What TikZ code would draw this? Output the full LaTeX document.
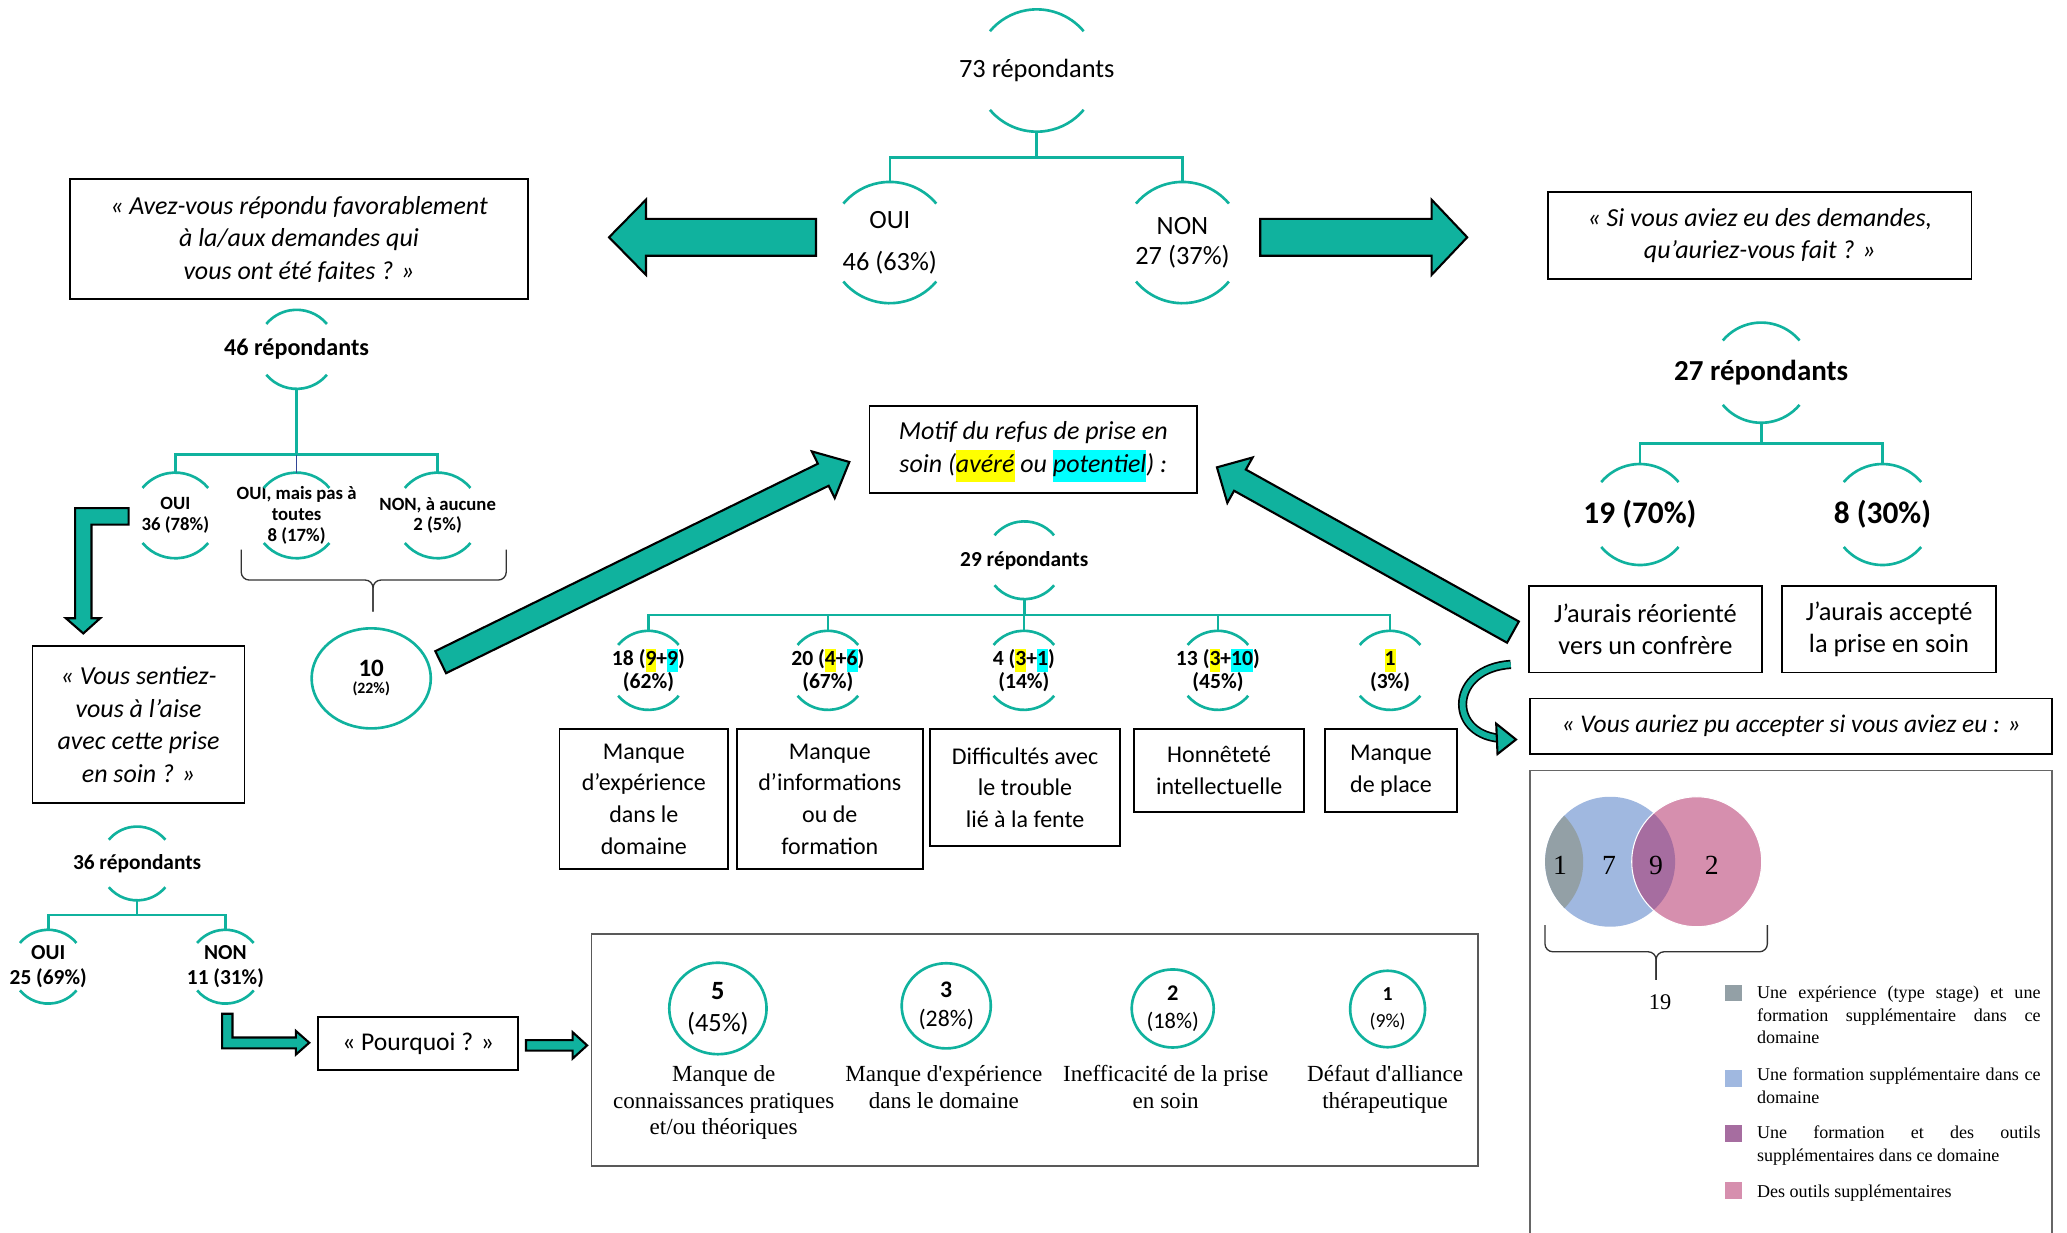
\documentclass[tikz,border=0pt]{standalone}
\usepackage{fontspec}
\setmainfont{Carlito}
\newfontfamily\timesrm{Liberation Serif}
\usetikzlibrary{shapes.geometric,calc,positioning}

\definecolor{tealc}{RGB}{16,178,158}
\definecolor{navyc}{RGB}{50,70,150}
\definecolor{hly}{RGB}{255,255,0}
\definecolor{hlc}{RGB}{0,255,255}
\definecolor{venngrey}{RGB}{147,160,166}
\definecolor{vennblue}{RGB}{160,184,224}
\definecolor{vennpurple}{RGB}{166,109,160}
\definecolor{vennpink}{RGB}{214,143,174}

\hyphenpenalty=10000
\exhyphenpenalty=10000
\tolerance=9999

\newcommand{\fs}[2]{\fontsize{#1}{#2}\selectfont}
\newcommand{\hlyel}[1]{{\setlength{\fboxsep}{0pt}\colorbox{hly}{\strut#1}}}
\newcommand{\hlcya}[1]{{\setlength{\fboxsep}{0pt}\colorbox{hlc}{\strut#1}}}

% top and bottom arcs round a bubble node
\newcommand{\halves}[2]{%
  \draw[arcline] (#1.center) ++(40:#2pt) arc[start angle=40,end angle=140,radius=#2pt];
  \draw[arcline] (#1.center) ++(220:#2pt) arc[start angle=220,end angle=320,radius=#2pt];}

% fat arrow: tail, angle, length, half body, half head, head length
\newcommand{\fatarrow}[6]{%
  \begin{scope}[shift={(#1)},rotate=#2]
    \draw[fatarr] (0,-#4) -- ({#3-#6},-#4) -- ({#3-#6},-#5) -- (#3,0)
      -- ({#3-#6},#5) -- ({#3-#6},#4) -- (0,#4) -- cycle;
  \end{scope}}

% brace: left x, centre x, right x, top y, bar y, tip y
\newcommand{\curly}[6]{%
  \draw[bracel] (#1,#4) -- (#1,#5) -- (#2,#5) -- (#2,#6);
  \draw[bracel] (#3,#4) -- (#3,#5) -- (#2,#5) -- (#2,#6);}

\tikzset{
  tline/.style={draw=tealc, line width=2pt},
  arcline/.style={draw=tealc, line width=2pt},
  bub/.style={minimum height=#1, inner sep=0pt, outer sep=0pt, align=center},
  qbox/.style={draw, line width=1.3pt, align=center, inner sep=0pt, font=\itshape\fs{19.7}{24.7}},
  rbox/.style={draw, line width=1.3pt, align=center, inner sep=0pt, font=\fs{18.2}{24}},
  fatarr/.style={fill=tealc, draw=black, line width=1.6pt, line join=miter},
  bracel/.style={draw=black!80, line width=1pt, rounded corners=6pt},
  ring/.style={ellipse, draw=tealc, line width=2pt, inner sep=0pt, align=center},
  lab/.style={anchor=north, align=center, inner sep=0pt, font=\timesrm\fs{17.5}{20.3}},
  legtext/.style={anchor=north west, text width=215pt, align=justify, inner sep=0pt, font=\timesrm\fs{13.7}{17}},
  vnum/.style={font=\timesrm\fs{21}{24}, inner sep=0pt}
}

\begin{document}
\begin{tikzpicture}[x=1pt,y=-1pt]
\fill[white] (0,0) rectangle (1568,935);
\useasboundingbox (0,0) rectangle (1568,935);

% top tree
\node[bub=92.8pt, font=\fs{20}{24}] (tot) at (786.5,53.5) {73 répondants};
\halves{tot}{46.4}
\node[bub=92pt, font=\fs{20}{31.6}] (oui) at (675,184) {OUI\\46 (63\%)};
\halves{oui}{46}
\node[bub=92pt, font=\fs{20}{22.7}] (non) at (897,184) {NON\\27 (37\%)};
\halves{non}{46}
\draw[tline] (tot.south) -- ++(0,19.5) -| (oui.north);
\draw[tline] (tot.south) -- ++(0,19.5) -| (non.north);

\fatarrow{619,180}{180}{157}{14}{28.5}{28}
\fatarrow{956,180}{0}{157}{14}{28.5}{27}

\node[qbox, minimum width=347pt, minimum height=90.8pt] (favq) at (226.8,181.4)
  {« Avez-vous répondu favorablement\\à la/aux demandes qui\\vous ont été faites ? »};
\node[qbox, minimum width=321pt, minimum height=65.8pt] (siq) at (1335,178.8)
  {« Si vous aviez eu des demandes,\\qu'auriez-vous fait ? »};

% left tree
\node[bub=60pt, font=\bfseries\fs{18.3}{22}] (r46) at (225,265) {46 répondants};
\halves{r46}{30}
\node[bub=65pt, font=\bfseries\fs{14.2}{15.8}] (c36) at (133,391) {OUI\\36 (78\%)};
\halves{c36}{32.5}
\node[bub=65pt, font=\bfseries\fs{14.2}{15.8}] (c8) at (225,391) {OUI, mais pas à\\toutes\\8 (17\%)};
\halves{c8}{32.5}
\node[bub=65pt, font=\bfseries\fs{14.2}{15.8}] (c2) at (332,391) {NON, à aucune\\2 (5\%)};
\halves{c2}{32.5}
\draw[tline] (r46.south) -- ++(0,50) -| (c36.north);
\draw[tline] (r46.south) -- ++(0,50) -| (c2.north);
\draw[navyc, line width=1pt] (c8.north) -- ++(0,-13);

\curly{183}{283}{384}{417}{440}{464}
\node[ring, minimum width=90.4pt, minimum height=75.9pt] (dix) at (281.6,514.6)
  {\fs{19}{21}\textbf{10}\\[1pt]\fs{12}{14}\textbf{(22\%)}};

\fatarrow{334.3,502.3}{26.1}{345.2}{9.3}{19.7}{22}

% reasons of refusal
\node[qbox, minimum width=248.4pt, minimum height=66.4pt] (motif) at (783.8,341)
  {\strut Motif du refus de prise en\\soin (\hlyel{avéré} ou \hlcya{potentiel}) :};
\node[bub=59pt, font=\bfseries\fs{16.2}{19}] (r29) at (777,425) {29 répondants};
\halves{r29}{29.5}
\node[bub=60pt, font=\bfseries\fs{16.4}{17.6}] (m1) at (491.9,508.5) {18 (\hlyel{9}+\hlcya{9})\\(62\%)};
\node[bub=60pt, font=\bfseries\fs{16.4}{17.6}] (m2) at (628,508.5) {20 (\hlyel{4}+\hlcya{6})\\(67\%)};
\node[bub=60pt, font=\bfseries\fs{16.4}{17.6}] (m3) at (776.7,508.5) {4 (\hlyel{3}+\hlcya{1})\\(14\%)};
\node[bub=60pt, font=\bfseries\fs{16.4}{17.6}] (m4) at (923.9,508.5) {13 (\hlyel{3}+\hlcya{10})\\(45\%)};
\node[bub=60pt, font=\bfseries\fs{16.4}{17.6}] (m5) at (1054.5,508.5) {\hlyel{1}\\(3\%)};
\foreach \m in {m1,m2,m3,m4,m5} {
  \halves{\m}{30}
  \draw[tline] (r29.south) -- ++(0,12) -| (\m.north);
}
\node[rbox, minimum width=127.8pt, minimum height=106.2pt] (b1) at (488.4,606.1) {Manque\\d’expérience\\dans le\\domaine};
\node[rbox, minimum width=141pt, minimum height=106.2pt] (b2) at (629.5,606.1) {Manque\\d’informations\\ou de\\formation};
\node[rbox, minimum width=144.2pt, minimum height=88.5pt] (b3) at (777.6,597.3) {Difficultés avec\\le trouble\\lié à la fente};
\node[rbox, minimum width=129pt, minimum height=62.8pt] (b4) at (924.8,584.4) {Honnêteté\\intellectuelle};
\node[rbox, minimum width=100.3pt, minimum height=63pt] (b5) at (1055.2,584.5) {Manque\\de place};

% right tree
\node[bub=76pt, font=\bfseries\fs{22}{26}] (r27) at (1336,282.7) {27 répondants};
\halves{r27}{38}
\node[bub=76.6pt, font=\bfseries\fs{23.8}{28}] (p19) at (1244,390.3) {19 (70\%)};
\halves{p19}{38.3}
\node[bub=76.6pt, font=\bfseries\fs{23.8}{28}] (p8) at (1428,390.3) {8 (30\%)};
\halves{p8}{38.3}
\draw[tline] (r27.south) -- ++(0,15.6) -| (p19.north);
\draw[tline] (r27.south) -- ++(0,15.6) -| (p8.north);
\node[rbox, font=\fs{20}{24}, minimum width=176.4pt, minimum height=65.7pt] (reor) at (1248.2,477.2) {J’aurais réorienté\\vers un confrère};
\node[rbox, font=\fs{20}{24}, minimum width=162pt, minimum height=65.7pt] (acc) at (1433,477.2) {J’aurais accepté\\la prise en soin};

\fatarrow{1147.7,479.5}{150.9}{257}{9.2}{19.7}{20}

% curved arrow
\draw[line width=7pt, black] (1146,504) .. controls (1100,507) and (1098,556) .. (1137,560);
\draw[line width=4.4pt, tealc] (1146,504) .. controls (1100,507) and (1098,556) .. (1137,560);
\draw[fatarr] (1135,549) -- (1150,561) -- (1136,572) -- cycle;

\node[qbox, font=\itshape\fs{19.3}{23}, minimum width=396pt, minimum height=42pt] (pu) at (1358.7,550.8)
  {« Vous auriez pu accepter si vous aviez eu : »};

% Venn
\node[draw=black!60, line width=1pt, minimum width=396pt, minimum height=380pt, anchor=north] (vennbox) at (1358.7,584) {};
\fill[vennblue] (1221.4,653.7) circle[radius=49.3pt];
\begin{scope}
  \clip (1221.4,653.7) circle[radius=49.3pt];
  \fill[venngrey] (1151,654) circle[radius=50pt];
\end{scope}
\fill[vennpink] (1287.1,653.7) circle[radius=49.3pt];
\begin{scope}
  \clip (1221.4,653.7) circle[radius=49.3pt];
  \fill[vennpurple] (1287.1,653.7) circle[radius=49.3pt];
\end{scope}
\draw[white, line width=0.8pt] (1287.1,653.7) circle[radius=49.3pt];
\node[vnum] (v1) at (1183.4,656.2) {1};
\node[vnum] (v7) at (1220.6,656.2) {7};
\node[vnum] (v9) at (1256.3,656.2) {9};
\node[vnum] (v2) at (1298.5,656.2) {2};
\curly{1172}{1256.3}{1340.7}{701.7}{722}{743.4}
\node[font=\timesrm\fs{17}{20}] (tot19) at (1259.3,760) {19};

\fill[venngrey] (1308.5,747.2) rectangle ++(13,12.5);
\fill[vennblue] (1308.5,811.7) rectangle ++(13,12.5);
\fill[vennpurple] (1308.5,853.5) rectangle ++(13,12.5);
\fill[vennpink] (1308.5,897) rectangle ++(13,12.5);
\node[legtext] (lg1) at (1332.7,748) {Une expérience (type stage) et une formation supplémentaire dans ce domaine};
\node[legtext] (lg2) at (1332.7,810) {Une formation supplémentaire dans ce domaine};
\node[legtext] (lg3) at (1332.7,854) {Une formation et des outils supplémentaires dans ce domaine};
\node[legtext] (lg4) at (1332.7,898.5) {Des outils supplémentaires};

% bottom left
\draw[fatarr] (97.6,385.5) -- (57,385.5) -- (57,469) -- (50,469) -- (63.2,480.5) -- (76,469)
  -- (69.4,469) -- (69.4,398) -- (97.6,398) -- cycle;
\node[qbox, minimum width=160.9pt, minimum height=119.4pt] (aise) at (105.1,549.7)
  {« Vous sentiez-\\vous à l’aise\\avec cette prise\\en soin ? »};
\node[bub=56pt, font=\bfseries\fs{16.2}{19}] (r36) at (104,655) {36 répondants};
\halves{r36}{28}
\node[bub=56pt, font=\bfseries\fs{16.2}{18.5}] (s25) at (36.6,733.3) {OUI\\25 (69\%)};
\halves{s25}{28}
\node[bub=56pt, font=\bfseries\fs{16.2}{18.5}] (s11) at (171,733.3) {NON\\11 (31\%)};
\halves{s11}{28}
\draw[tline] (r36.south) -- ++(0,11) -| (s25.north);
\draw[tline] (r36.south) -- ++(0,11) -| (s11.north);

\draw[fatarr] (168.5,769) -- (176.4,769) -- (176.4,787) -- (224.4,787) -- (224.4,782) -- (234.6,791)
  -- (224.4,800) -- (224.4,795.3) -- (168.5,795.3) -- cycle;
\node[rbox, font=\fs{19.4}{23}, minimum width=151.5pt, minimum height=40.4pt] (pq) at (317.2,791.5) {« Pourquoi ? »};
\fatarrow{399,793}{0}{46.4}{4}{10}{11}

% why not
\node[draw=black!65, line width=1pt, minimum width=672.3pt, minimum height=175.9pt] (res) at (785,796.5) {};
\node[ring, minimum width=73.8pt, minimum height=69.4pt, font=\fs{20}{24.5}] (e1) at (544.6,765) {\textbf{5}\\(45\%)};
\node[ring, minimum width=67.6pt, minimum height=64.6pt, font=\fs{18}{22.5}] (e2) at (717.8,763) {\textbf{3}\\(28\%)};
\node[ring, minimum width=62.2pt, minimum height=59.2pt, font=\fs{17}{21}] (e3) at (889.6,765) {\textbf{2}\\(18\%)};
\node[ring, minimum width=56.8pt, minimum height=58pt, font=\fs{15}{20.3}] (e4) at (1052.6,765.4) {\textbf{1}\\(9\%)};
\node[lab] (l1) at (549,808) {Manque de\\connaissances pratiques\\et/ou théoriques};
\node[lab] (l2) at (716,808) {Manque d'expérience\\dans le domaine};
\node[lab] (l3) at (884.3,808) {Inefficacité de la prise\\en soin};
\node[lab] (l4) at (1050.7,808) {Défaut d'alliance\\thérapeutique};
\end{tikzpicture}
\end{document}
